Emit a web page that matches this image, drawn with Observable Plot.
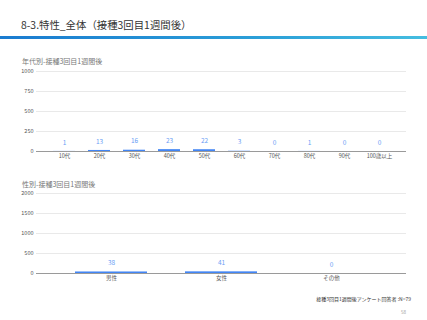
<!DOCTYPE html>
<html>
<head>
<meta charset="utf-8">
<script src="https://cdn.jsdelivr.net/npm/d3@7"></script>
<script src="https://cdn.jsdelivr.net/npm/@observablehq/plot@0.6"></script>
<style>
  html, body { margin: 0; padding: 0; background: #fff; }
  body { width: 427px; height: 320px; position: relative; overflow: hidden; font-family: "Noto Sans CJK JP", "Noto Sans", sans-serif; }
  .abs { position: absolute; white-space: nowrap; }
  #title { left: 21px; top: 17px; font-size: 10.4px; line-height: 16px; color: #333; }
  #bar { left: 0; top: 36px; width: 427px; height: 3px; background: linear-gradient(to right, #1a7bd0, #2b9fd8 60%, #45bde0); }
  .ctitle { left: 22px; font-size: 7px; line-height: 10px; color: #777; }
  #t1 { top: 56px; }
  #t2 { top: 179px; }
  #foot { right: 16px; top: 295px; font-size: 5px; line-height: 7px; color: #333; }
  #page { right: 21px; top: 309px; font-size: 4.5px; line-height: 6px; color: #999; }
  #c1 { left: 0; top: 63px; }
  #c2 { left: 0; top: 185px; }
  svg { background: transparent !important; }
</style>
</head>
<body>
<div id="title" class="abs">8-3.特性_全体（接種3回目1週間後）</div>
<div id="bar" class="abs"></div>
<div id="c1" class="abs"></div>
<div id="c2" class="abs"></div>
<div id="t1" class="abs ctitle">年代別-接種3回目1週間後</div>
<div id="t2" class="abs ctitle">性別-接種3回目1週間後</div>
<div id="foot" class="abs">接種3回目1週間後アンケート回答者 :N=79</div>
<div id="page" class="abs">58</div>
<script>
const ages = ["10代", "20代", "30代", "40代", "50代", "60代", "70代", "80代", "90代", "100歳以上"];
const ageCounts = [1, 13, 16, 23, 22, 3, 0, 1, 0, 0];
const ageTicks = [0, 250, 500, 750, 1000];

const genders = ["男性", "女性", "その他"];
const genderCounts = [38, 41, 0];
const genderTicks = [0, 500, 1000, 1500, 2000];

const FONT = '"Noto Sans CJK JP", "Noto Sans", sans-serif';
const BAR = "#4285f4";
const LABEL = "#6a9ef5";

function chart(cats, vals, ticks, padding) {
  const data = cats.map((c, i) => ({cat: c, val: vals[i]}));
  return Plot.plot({
    width: 427,
    height: 101,
    marginTop: 8,
    marginBottom: 13,
    marginLeft: 36,
    marginRight: 21,
    style: {fontFamily: FONT, fontSize: "5.5px", background: "transparent", color: "#555", overflow: "visible"},
    x: {domain: cats, padding: padding, label: null, tickSize: 0, tickPadding: 3},
    y: {domain: [0, ticks[ticks.length - 1]], ticks: ticks, tickFormat: d => String(d), label: null, tickSize: 0, tickPadding: 3},
    marks: [
      Plot.ruleY(ticks.filter(d => d > 0), {stroke: "#e3e3e3", strokeWidth: 0.8}),
      Plot.barY(data, {x: "cat", y: "val", fill: BAR}),
      Plot.ruleY([0], {stroke: "#9a9a9a", strokeWidth: 1}),
      Plot.text(data, {x: "cat", y: "val", text: d => String(d.val), dy: -9, fill: LABEL, fontSize: 6.5})
    ]
  });
}

document.getElementById("c1").appendChild(chart(ages, ageCounts, ageTicks, 0.38));
document.getElementById("c2").appendChild(chart(genders, genderCounts, genderTicks, 0.35));
</script>
</body>
</html>
